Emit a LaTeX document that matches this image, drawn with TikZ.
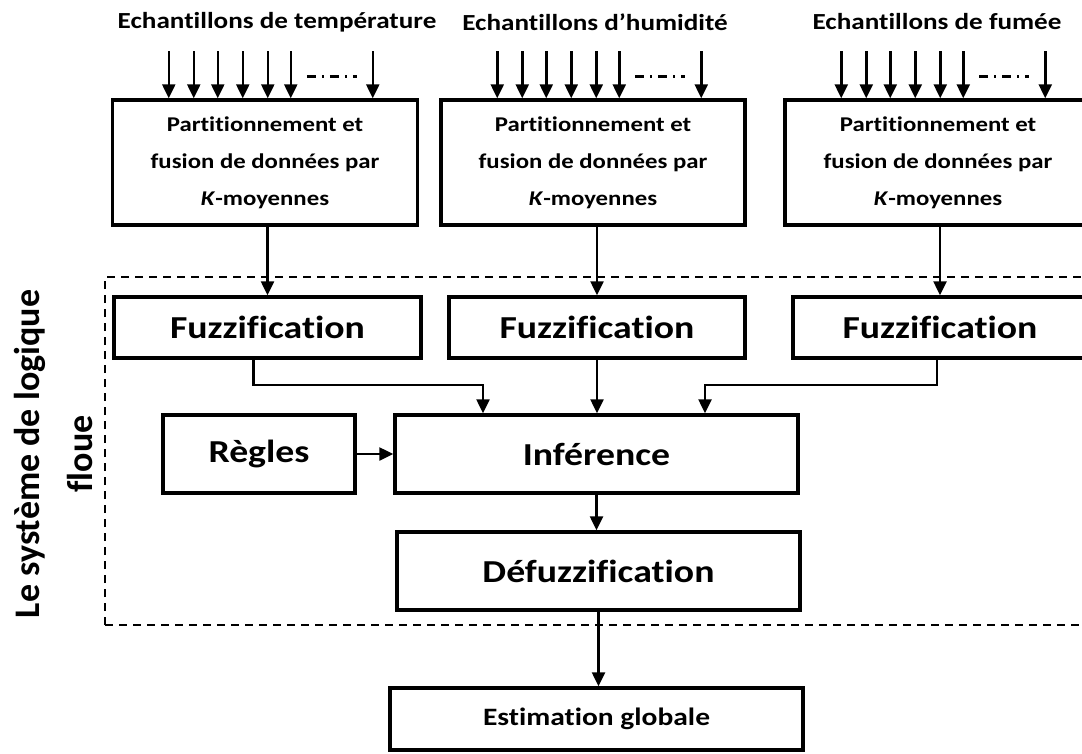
\documentclass[tikz,border=0pt]{standalone}
\usepackage{fontspec}
\setmainfont{Carlito}[FakeStretch=1.18,Ligatures=NoCommon]
\newfontfamily\sysfont{Carlito}[Ligatures=NoCommon]
\usetikzlibrary{arrows.meta,positioning}
\tikzset{
  ar/.style={-{Triangle[length=14pt,width=13pt]},line width=2.5pt},
  blk/.style={draw,line width=3.5pt,align=center,inner sep=0pt,font=\bfseries},
  kmbox/.style={blk,minimum width=305pt,minimum height=125pt,font=\bfseries\fontsize{21}{37}\selectfont},
  fzbox/.style={blk,minimum height=61pt,font=\bfseries\fontsize{32}{38}\selectfont},
  bigbox/.style={blk,minimum height=78pt,font=\bfseries\fontsize{32}{38}\selectfont},
  lbl/.style={font=\bfseries\fontsize{23}{28}\selectfont,inner sep=0pt}
}

\begin{document}
\begin{tikzpicture}[x=1pt,y=-1pt]
\clip (0,0) rectangle (1082,753);
% sample labels
\node[lbl] (ech1) at (277,22) {Echantillons de température};
\node[lbl] (ech2) at (595,22) {Echantillons d’humidité};
\node[lbl] (ech3) at (937,22) {Echantillons de fumée};
% clustering boxes
\node[kmbox] (km1) at (265,162.5) {Partitionnement et\\fusion de données par\\\textit{K}-moyennes};
\node[kmbox,minimum width=304pt] (km2) at (593,162.5) {Partitionnement et\\fusion de données par\\\textit{K}-moyennes};
\node[kmbox,minimum width=306pt] (km3) at (938,162.5) {Partitionnement et\\fusion de données par\\\textit{K}-moyennes};
\foreach \b in {km1,km2,km3}{
  \foreach \dx in {58,83,107,132,157,180,262}
    \draw[ar] ([xshift=\dx pt,yshift=47pt]\b.north west) -- ([xshift=\dx pt]\b.north west);
  \draw[line width=2.5pt,dash pattern=on 9pt off 6pt on 2pt off 6pt] ([xshift=196pt,yshift=22pt]\b.north west) -- ++(50,0);
}
% fuzzy system frame
\draw[line width=2pt,dash pattern=on 8pt off 6pt] (105,625) |- (1100,277);
\draw[line width=2pt,dash pattern=on 8pt off 6pt] (105,625) -- (1100,625);
\node[rotate=90,align=center,font=\sysfont\bfseries\fontsize{36}{53}\selectfont] (sys) at (54,454) {Le système de logique\\floue};
% fuzzification
\node[fzbox,minimum width=307pt] (fz1) at (267.5,327.5) {Fuzzification};
\node[fzbox,minimum width=296pt] (fz2) at (597,327.5) {Fuzzification};
\node[fzbox,minimum width=294pt] (fz3) at (940,327.5) {Fuzzification};
\draw[ar] (km1.south -| fz1.north) -- (fz1.north);
\draw[ar] (km2.south -| fz2.north) -- (fz2.north);
\draw[ar] (km3.south -| fz3.north) -- (fz3.north);
% inference and rules
\node[bigbox,minimum width=403pt] (inf) at (596.5,454) {Inférence};
\node[bigbox,minimum width=192pt] (reg) at (259,454) {Règles};
\draw[ar] ([xshift=-14pt]fz1.south) -- ++(0,25) -| ([xshift=-113.5pt]inf.north);
\draw[ar] (fz2.south) -- (fz2.south |- inf.north);
\draw[ar] ([xshift=-3pt]fz3.south) -- ++(0,25) -| ([xshift=108.5pt]inf.north);
\draw[ar] (reg.east) -- (inf.west);
% output
\node[bigbox,minimum width=403pt] (def) at (598.5,571) {Défuzzification};
\node[blk,minimum width=413pt,minimum height=62pt,font=\bfseries\fontsize{25}{30}\selectfont] (est) at (596.5,719) {Estimation globale};
\draw[ar] (inf.south) -- (inf.south |- def.north);
\draw[ar] (def.south) -- (def.south |- est.north);
\end{tikzpicture}
\end{document}
